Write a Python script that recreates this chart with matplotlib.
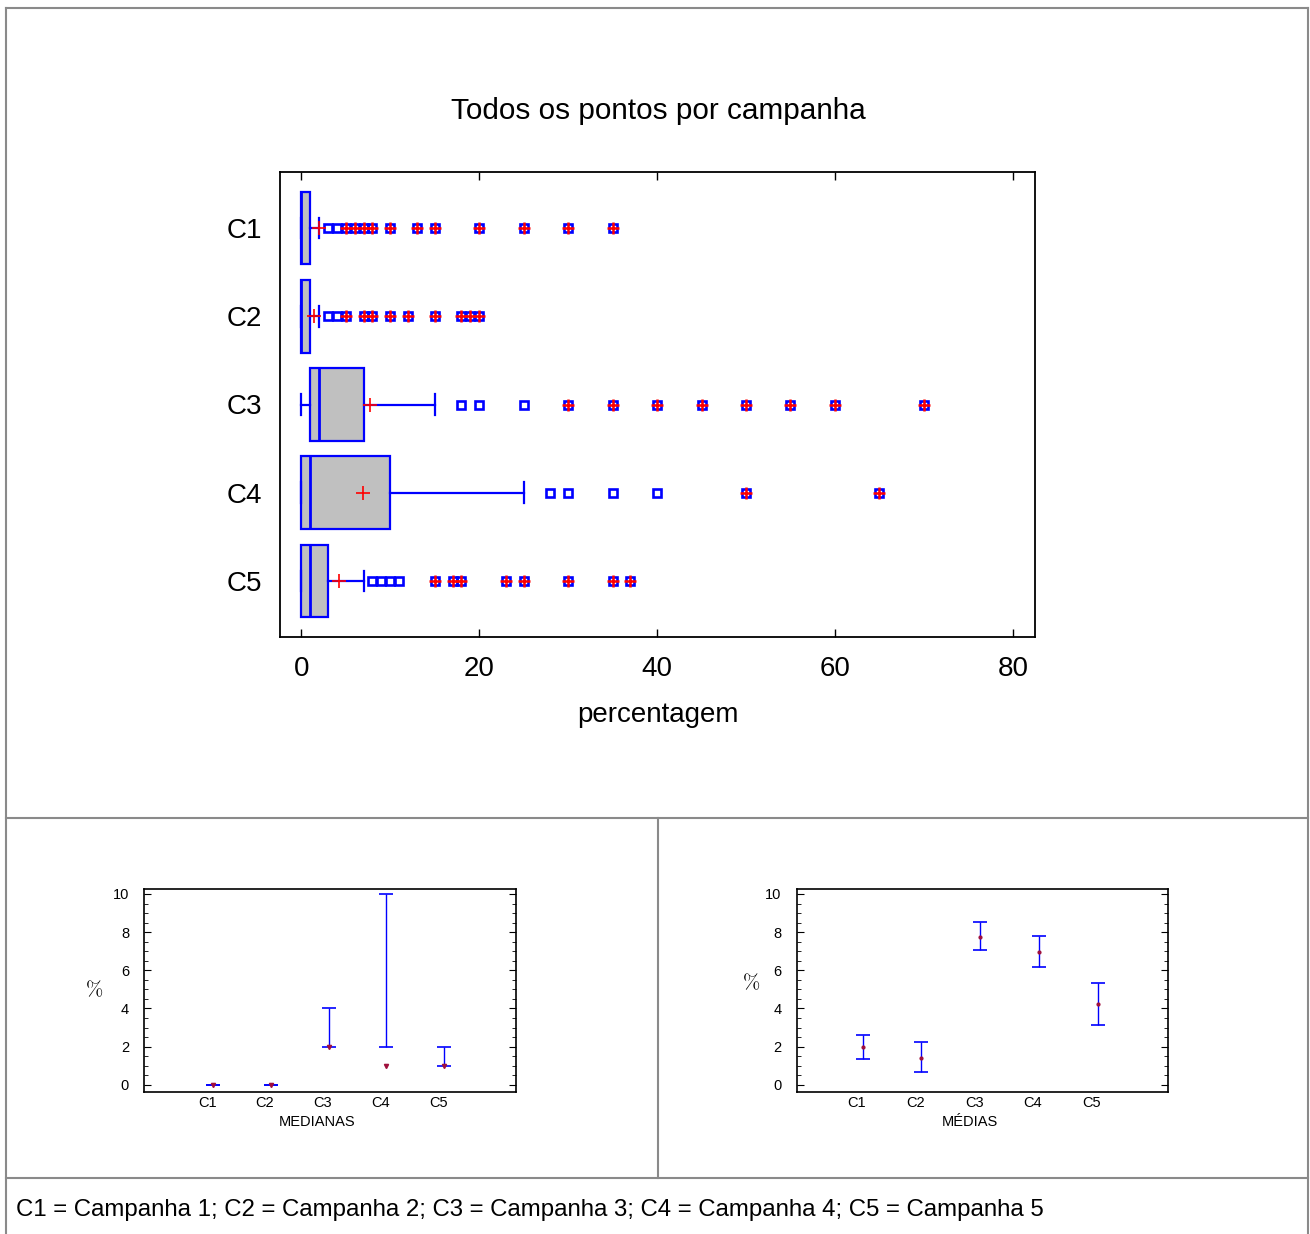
import matplotlib.pyplot as plt
from matplotlib.lines import Line2D
from matplotlib.ticker import MultipleLocator
import numpy as np

plt.rcParams['font.family'] = ['Liberation Sans', 'DejaVu Sans']
plt.rcParams['mathtext.fontset'] = 'cm'

# dados
campanhas = ['C1', 'C2', 'C3', 'C4', 'C5']
q1 = [0, 0, 1, 0, 0]
medianas = [0, 0, 2, 1, 1]
q3 = [1, 1, 7, 10, 3]
bigode_inf = [0, 0, 0, 0, 0]
bigode_sup = [2, 2, 15, 25, 7]
medias = [1.96, 1.40, 7.77, 6.96, 4.22]
outliers = [
    [3, 4, 5, 6, 7, 8, 10, 13, 15, 20, 25, 30, 35],
    [3, 4, 5, 7, 8, 10, 12, 15, 18, 19, 20],
    [18, 20, 25, 30, 35, 40, 45, 50, 55, 60, 70],
    [28, 30, 35, 40, 50, 65],
    [8, 9, 10, 11, 15, 17, 18, 23, 25, 30, 35, 37],
]

# intervalos de confianca
ic_med_inf = [0, 0, 2, 2, 1]
ic_med_sup = [0, 0, 4, 10, 2]
ic_media_inf = [1.36, 0.65, 7.06, 6.17, 3.11]
ic_media_sup = [2.60, 2.24, 8.53, 7.78, 5.31]

W, H = 1310, 1234
fig = plt.figure(figsize=(W / 100, H / 100), dpi=100)


def fx(px):
    return px / W


def fy(py):
    return 1 - py / H


# ---------- grafico de cima: boxplots ----------
ax = fig.add_axes([fx(280), fy(637), fx(1035) - fx(280), fy(172) - fy(637)])
pos = np.arange(1, len(campanhas) + 1)
stats = []
for i, c in enumerate(campanhas):
    stats.append(dict(label=c, q1=q1[i], med=medianas[i], q3=q3[i],
                      whislo=bigode_inf[i], whishi=bigode_sup[i],
                      mean=medias[i], fliers=np.array(outliers[i])))

ax.bxp(stats, positions=pos, orientation='horizontal', widths=0.82,
       capwidths=0.23, patch_artist=True, showmeans=True,
       boxprops=dict(facecolor='#c0c0c0', edgecolor='blue', linewidth=1.6),
       medianprops=dict(color='blue', linewidth=2),
       whiskerprops=dict(color='blue', linewidth=1.6),
       capprops=dict(color='blue', linewidth=1.6),
       flierprops=dict(marker='s', markerfacecolor='none', markeredgecolor='blue',
                       markersize=6.3, markeredgewidth=1.9),
       meanprops=dict(marker='+', markeredgecolor='red', markersize=10,
                      markeredgewidth=1.2))

# pontos extremos (acima de Q3 + 3*IQR) marcados com + vermelho
for i in range(len(campanhas)):
    lim = q3[i] + 3 * (q3[i] - q1[i])
    ext = [v for v in outliers[i] if v > lim]
    ax.plot(ext, [pos[i]] * len(ext), '+', color='red', ms=8, mew=1.8)

ax.set_xlim(-2.4, 82.5)
ax.set_ylim(5.64, 0.36)
ax.set_xticks([0, 20, 40, 60, 80])
ax.set_yticks(pos)
ax.set_yticklabels(campanhas)
ax.tick_params(axis='x', direction='in', top=True, length=6, width=1,
               labelsize=20, pad=14)
ax.tick_params(axis='y', length=0, labelsize=20, pad=13)
ax.set_xlabel('percentagem', fontsize=20, labelpad=14)
for s in ax.spines.values():
    s.set_linewidth(1.3)
fig.text(fx(658), fy(111), 'Todos os pontos por campanha', ha='center',
         va='center', fontsize=21.4)


# ---------- graficos de baixo ----------
def painel(left, right, centro, inf, sup, xlabel, xlab_px, ylab_px, marcador, ms):
    a = fig.add_axes([fx(left), fy(1092), fx(right) - fx(left), fy(889) - fy(1092)])
    xs = pos + 0.1
    inf = np.array(inf)
    sup = np.array(sup)
    a.errorbar(xs, inf, yerr=[np.zeros(len(inf)), sup - inf], fmt='none',
               ecolor='blue', elinewidth=1, capsize=4.8, capthick=1.2)
    a.plot(xs, centro, marcador, color='#a0103c', ms=ms, ls='none')
    a.set_ylim(-0.38, 10.26)
    a.set_xticks(pos)
    a.set_xticklabels(campanhas)
    a.yaxis.set_major_locator(MultipleLocator(2))
    a.yaxis.set_minor_locator(MultipleLocator(0.5))
    a.tick_params(axis='y', which='both', direction='in', right=True,
                  labelsize=10.5, pad=11)
    a.tick_params(axis='y', which='major', length=5)
    a.tick_params(axis='y', which='minor', length=3)
    a.tick_params(axis='x', length=0, labelsize=10.5, pad=3)
    for s in a.spines.values():
        s.set_linewidth(1.2)
    fig.text(fx(xlab_px), fy(1122), xlabel, ha='center', va='center', fontsize=10.5)
    fig.text(fx(ylab_px[0]), fy(ylab_px[1]), r'$\%$', ha='center', va='center',
             fontsize=15)
    return a


a1 = painel(144.3, 515.7, medianas, ic_med_inf, ic_med_sup, 'MEDIANAS', 317,
            (94, 990), 'v', 3)
a1.set_xlim(-0.09, 6.34)
a2 = painel(796.7, 1167.7, medias, ic_media_inf, ic_media_sup, 'MÉDIAS', 970,
            (751, 983), 'o', 2)
a2.set_xlim(-0.02, 6.29)

fig.text(fx(16), fy(1210), 'C1 = Campanha 1; C2 = Campanha 2; C3 = Campanha 3; '
         'C4 = Campanha 4; C5 = Campanha 5', ha='left', va='center', fontsize=17.3)

# bordas dos paineis
cinza = '#8a8a8a'
linhas = [
    ([6, 1308], [8, 8]),
    ([6, 6], [8, 1234]),
    ([1308, 1308], [8, 1234]),
    ([6, 1308], [818, 818]),
    ([658, 658], [818, 1178]),
    ([6, 1308], [1178, 1178]),
]
for xs_, ys_ in linhas:
    fig.add_artist(Line2D([fx(v) for v in xs_], [fy(v) for v in ys_],
                          color=cinza, lw=1.5))

fig.savefig('out.png', dpi=100)
